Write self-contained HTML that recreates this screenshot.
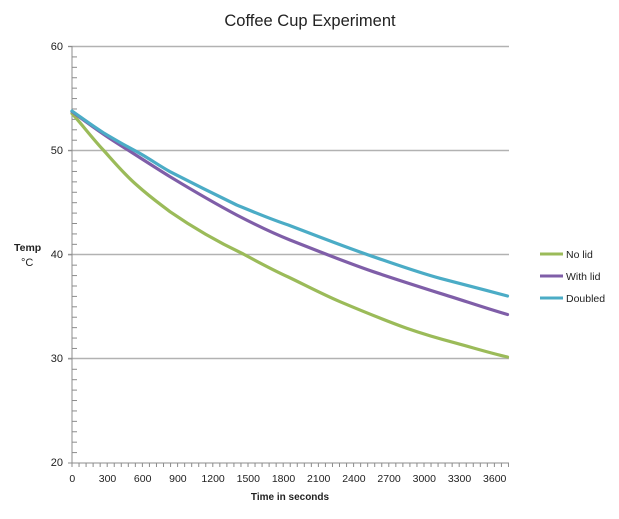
<!DOCTYPE html>
<html><head><meta charset="utf-8"><style>
html,body{margin:0;padding:0;background:#fff;}
svg{display:block;}
text{font-family:"Liberation Sans",Arial,sans-serif;fill:#222;}
</style></head><body>
<svg width="619" height="519" viewBox="0 0 619 519" xmlns="http://www.w3.org/2000/svg">
<rect width="619" height="519" fill="#fff"/>
<text x="310" y="26" font-size="16.5" text-anchor="middle" fill="#111">Coffee  Cup Experiment</text>
<g stroke="#b2b2b2" stroke-width="1.5">
<line x1="68" y1="46.5" x2="509" y2="46.5"/>
<line x1="68" y1="150.5" x2="509" y2="150.5"/>
<line x1="68" y1="254.5" x2="509" y2="254.5"/>
<line x1="68" y1="358.5" x2="509" y2="358.5"/>
</g>
<g stroke="#8c8c8c" stroke-width="1">
<line x1="72" y1="46" x2="72" y2="467"/>
<line x1="68" y1="463" x2="509" y2="463"/>
</g>
<g stroke="#8c8c8c" stroke-width="1" id="yt"></g>
<g stroke="#8c8c8c" stroke-width="1" id="xt"></g>
<g font-size="11" text-anchor="end">
<text x="63" y="50">60</text>
<text x="63" y="154">50</text>
<text x="63" y="258">40</text>
<text x="63" y="362">30</text>
<text x="63" y="466">20</text>
</g>
<text x="14" y="251" font-size="10.5" font-weight="bold">Temp</text>
<text x="21" y="266" font-size="11">°C</text>
<g font-size="10.5" text-anchor="middle">
<text x="72.3" y="482">0</text>
<text x="107.5" y="482">300</text>
<text x="142.7" y="482">600</text>
<text x="177.9" y="482">900</text>
<text x="213.1" y="482">1200</text>
<text x="248.3" y="482">1500</text>
<text x="283.5" y="482">1800</text>
<text x="318.7" y="482">2100</text>
<text x="353.9" y="482">2400</text>
<text x="389.1" y="482">2700</text>
<text x="424.3" y="482">3000</text>
<text x="459.5" y="482">3300</text>
<text x="494.7" y="482">3600</text>
</g>
<text x="290" y="500" font-size="10" font-weight="bold" text-anchor="middle">Time in seconds</text>
<g fill="none" stroke-width="3.2" stroke-linejoin="round" stroke-linecap="round">
<path stroke="#9bbb59" d="M72,113.5 C80,122 92,138 103.3,150 C115,163 125,175 136.7,185 C150,197 160,204 170,211.7 C195,229 220,243 243.3,254 C258,262 273,270 288.3,277 C305,285 322,294 340,301.7 C362,311 384,320 406.7,328.3 C423,334 440,339 456.7,343.3 C474,348 490,353 507.5,357"/>
<path stroke="#7f5ea8" d="M72,111.5 C82,119 93,127 103.3,134 C112,140 120,145 128,150 C142,159 156,168 170,176.7 C192,190 214,203 236.7,215 C254,224 270,232 290,240 C318,251 345,262 373.3,271.7 C395,279 417,286 440,293.3 C462,300 485,308 507.5,314.5"/>
<path stroke="#4bacc6" d="M72,111 C82,118 93,126 103.3,132.7 C114,139 124,145 135,150.7 C147,157 158,165 170,171.7 C192,183 214,194 236.7,205 C254,212 270,219 288.3,225 C317,236 345,247 373.3,256.7 C395,264 417,272 440,278.3 C462,284 485,290 507.5,296"/>
</g>
<g stroke-width="3">
<line x1="540" y1="254" x2="563" y2="254" stroke="#9bbb59"/>
<line x1="540" y1="276" x2="563" y2="276" stroke="#7f5ea8"/>
<line x1="540" y1="298" x2="563" y2="298" stroke="#4bacc6"/>
</g>
<g font-size="10.5">
<text x="566" y="258">No lid</text>
<text x="566" y="280">With lid</text>
<text x="566" y="302">Doubled</text>
</g>
<script>
(function(){
var ns="http://www.w3.org/2000/svg";
var yt=document.getElementById("yt");
for(var v=20;v<=60;v++){
 var y=463-(v-20)*(416.5/40);
 var l=document.createElementNS(ns,"line");
 if(v%10==0){l.setAttribute("x1",68);l.setAttribute("x2",72);}
 else{l.setAttribute("x1",72);l.setAttribute("x2",77);}
 l.setAttribute("y1",y);l.setAttribute("y2",y);yt.appendChild(l);
}
var xt=document.getElementById("xt");
for(var t=60;t<=3720;t+=60){
 var x=72+t*0.11733;
 if(x>509)break;
 var l2=document.createElementNS(ns,"line");
 l2.setAttribute("x1",x);l2.setAttribute("x2",x);
 l2.setAttribute("y1",463);l2.setAttribute("y2",467);xt.appendChild(l2);
}
})();
</script>
</svg>
</body></html>
